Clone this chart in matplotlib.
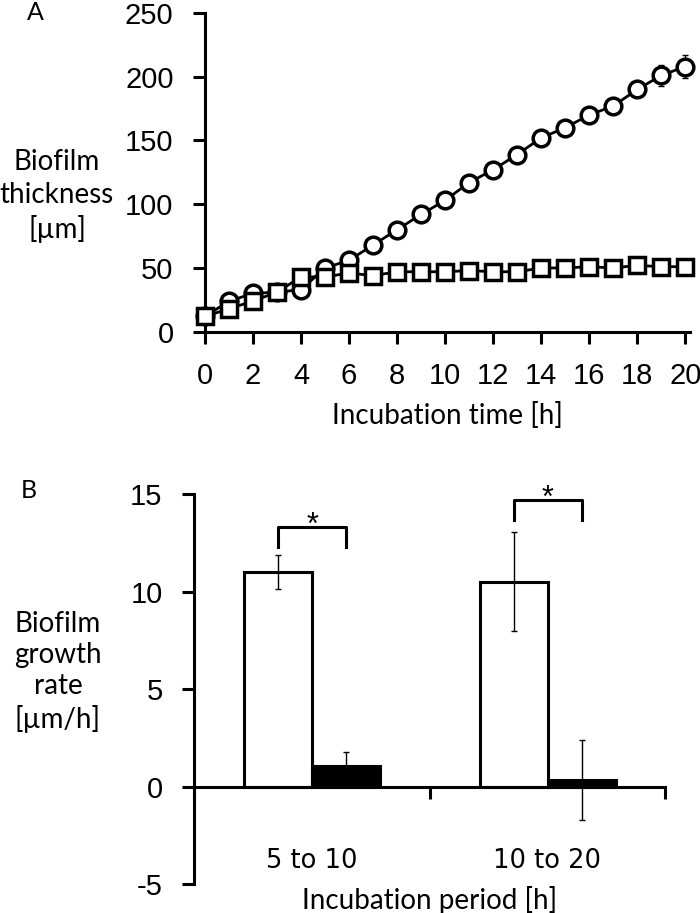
#import the necessary libraries
import matplotlib
matplotlib.use("Agg")
import matplotlib.pyplot as plt
import numpy as np

plt.rcParams['axes.unicode_minus'] = False  # the chart uses a plain hyphen for -5

# panel A: biofilm thickness over time
hours = list(range(0, 21))
thick_circle = [12, 24, 30, 31, 33, 50, 56, 68, 80, 92, 103, 117, 127, 139, 152, 160, 170, 177, 190, 201, 208]
err_circle = [1, 2, 2, 2, 2, 3, 3, 3, 3, 3, 3, 3, 3, 3, 3, 3, 4, 4, 5, 8, 9]
thick_square = [12, 18, 24, 31, 43, 43, 46, 44, 47, 47, 47, 48, 47, 47, 50, 50, 51, 50, 52, 51, 51]
err_square = [1, 1, 2, 2, 2, 2, 2, 2, 2, 2, 2, 2, 2, 2, 2, 2, 2, 2, 2, 2, 2]
x_ticks_a = list(range(0, 21, 2))
y_ticks_a = [0, 50, 100, 150, 200, 250]

# panel B: growth rate per period
periods = ['5 to 10', '10 to 20']
rate_white = [11.0, 10.5]
rate_white_err = [0.85, 2.55]
rate_black = [1.05, 0.33]
rate_black_err = [0.72, 2.03]
y_ticks_b = [-5, 0, 5, 10, 15]

num_font = 'Liberation Sans'
txt_font = 'Lato'
lw = 2.2

fig = plt.figure(figsize=(7, 9.13), dpi=100)

# ---- panel A ----
ax1 = fig.add_axes([205/700, 1-331.7/913, 485/700, 318.7/913])
ax1.errorbar(hours, thick_circle, yerr=err_circle, fmt='none', ecolor='black',
             elinewidth=1, capsize=2.5, zorder=1, clip_on=False)
ax1.errorbar(hours, thick_square, yerr=err_square, fmt='none', ecolor='black',
             elinewidth=1, capsize=2.5, zorder=1, clip_on=False)
ax1.plot(hours, thick_circle, color='black', lw=2, marker='o', ms=12,
         mfc='white', mec='black', mew=2.5, zorder=3, clip_on=False)
ax1.plot(hours, thick_square, color='black', lw=2, marker='s', ms=12,
         mfc='white', mec='black', mew=2.5, zorder=4, clip_on=False)
ax1.set_xlim(0, 20.2)
ax1.set_ylim(0, 250)
ax1.set_xticks(x_ticks_a)
ax1.set_yticks(y_ticks_a)
ax1.set_xlabel('Incubation time [h]', family=txt_font, fontsize=20, labelpad=9)

# ---- panel B ----
ax2 = fig.add_axes([194/700, 1-884/913, 471/700, 390/913])
pos = np.arange(len(periods)) + 0.5
ax2.bar(pos - 0.143, rate_white, width=0.289, color='white', edgecolor='black', lw=lw, zorder=2)
ax2.bar(pos + 0.146, rate_black, width=0.289, color='black', edgecolor='black', lw=lw, zorder=2)
ax2.errorbar(pos - 0.143, rate_white, yerr=rate_white_err, fmt='none', ecolor='black',
             elinewidth=1, capsize=2.5, zorder=3)
ax2.errorbar(pos + 0.146, rate_black, yerr=rate_black_err, fmt='none', ecolor='black',
             elinewidth=1, capsize=2.5, zorder=3)
ax2.set_xlim(0, 2)
ax2.set_ylim(-5, 15)
ax2.set_yticks(y_ticks_b)
ax2.set_xticks([0, 1, 2])
ax2.set_xticklabels([])
ax2.set_xticks(pos, minor=True)
ax2.set_xticklabels(periods, minor=True)
ax2.tick_params(axis='x', which='minor', length=0, pad=44, labelsize=18.5)
for lab in ax2.get_xticklabels(minor=True):
    lab.set_family(txt_font)
ax2.spines['bottom'].set_position(('data', 0))
ax2.set_xlabel('Incubation period [h]', family=txt_font, fontsize=20, labelpad=9)

# significance brackets
brackets = [(pos[0] - 0.143, pos[0] + 0.146, 12.27, 13.3),
            (pos[1] - 0.143, pos[1] + 0.146, 13.68, 14.7)]
for x0, x1, ylo, yhi in brackets:
    ax2.plot([x0, x0, x1, x1], [ylo, yhi, yhi, ylo], color='black', lw=lw, clip_on=False)
    ax2.text((x0 + x1) / 2, yhi - 0.36, '*', ha='center', va='baseline',
             family=num_font, fontsize=22)

for ax in (ax1, ax2):
    for side in ('top', 'right'):
        ax.spines[side].set_visible(False)
    for side in ('left', 'bottom'):
        ax.spines[side].set_linewidth(lw)
    ax.tick_params(which='major', direction='out', length=8.6, width=lw, labelsize=21)
    ax.tick_params(axis='y', pad=14)
    for lab in ax.get_yticklabels() + ax.get_xticklabels():
        lab.set_family(num_font)
ax1.tick_params(axis='x', pad=13)

# y labels and panel letters
fig.text(57/700, 1-196/913, 'Biofilm\nthickness\n[µm]', ha='center', va='center',
         family=txt_font, fontsize=20, linespacing=1.3)
fig.text(58/700, 1-672/913, 'Biofilm\ngrowth\nrate\n[µm/h]', ha='center', va='center',
         family=txt_font, fontsize=20, linespacing=1.25)
fig.text(35/700, 1-13/913, 'A', ha='center', va='center', family=txt_font, fontsize=18)
fig.text(29/700, 1-491/913, 'B', ha='center', va='center', family=txt_font, fontsize=18)

fig.savefig('out.png', dpi=100)
